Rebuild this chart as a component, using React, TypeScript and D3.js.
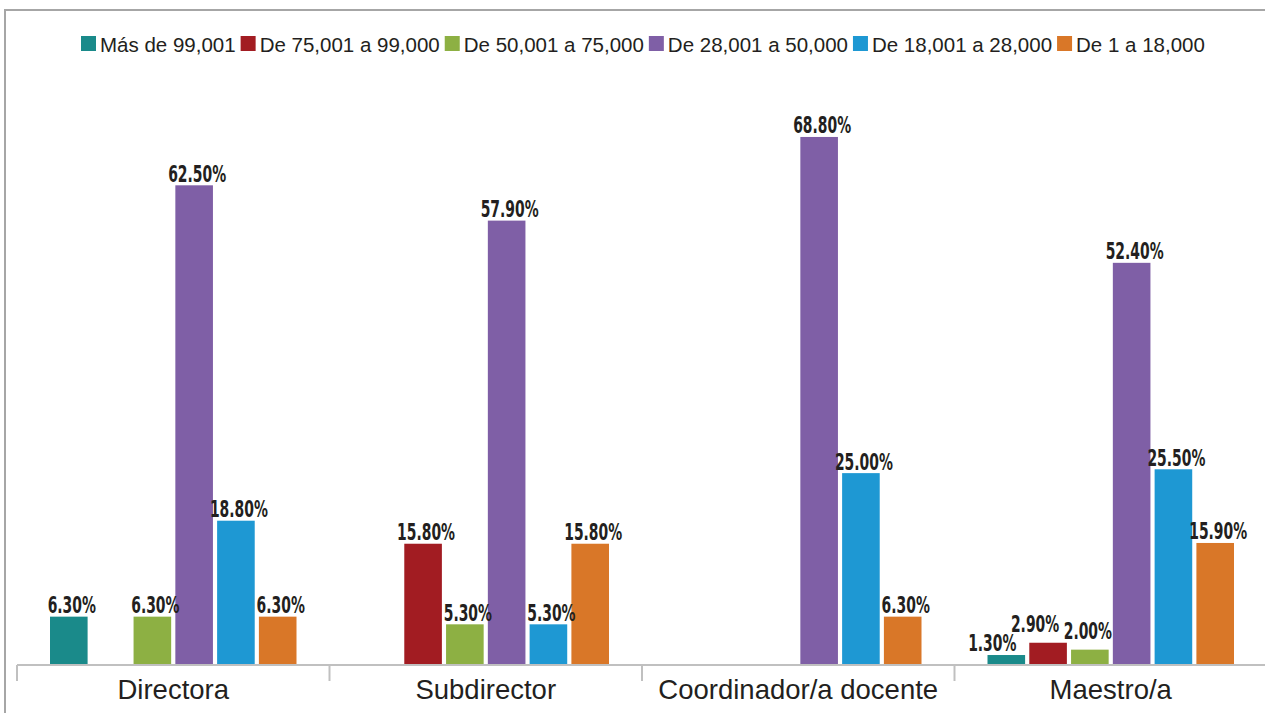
import React, { useEffect, useRef } from "react";
import * as d3 from "d3";

const categories = ["Directora", "Subdirector", "Coordinador/a docente", "Maestro/a"];
const seriesNames = [
  "Más de 99,001",
  "De 75,001 a 99,000",
  "De 50,001 a 75,000",
  "De 28,001 a 50,000",
  "De 18,001 a 28,000",
  "De 1 a 18,000",
];
const seriesColors = ["#1a8a8a", "#a21c22", "#8db043", "#7f5fa6", "#1e98d3", "#d97728"];
// values per series, in category order (null = no bar)
const masDe99001 = [6.3, null, null, 1.3];
const de75001a99000 = [null, 15.8, null, 2.9];
const de50001a75000 = [6.3, 5.3, null, 2.0];
const de28001a50000 = [62.5, 57.9, 68.8, 52.4];
const de18001a28000 = [18.8, 5.3, 25.0, 25.5];
const de1a18000 = [6.3, 15.8, 6.3, 15.9];
const seriesValues = [masDe99001, de75001a99000, de50001a75000, de28001a50000, de18001a28000, de1a18000];

const condFont = "'Liberation Sans Narrow', 'DejaVu Sans Condensed', sans-serif";

export default function App() {
  const ref = useRef<SVGSVGElement>(null);
  useEffect(() => {
    const svg = d3.select(ref.current);
    svg.selectAll("*").remove();
    const W = 1265, H = 713;

    // frame
    svg.append("path")
      .attr("d", `M5,${H + 5} V10 H${W + 5}`)
      .attr("fill", "none").attr("stroke", "#a6a6a6").attr("stroke-width", 2);

    const x = d3.scaleBand<string>().domain(categories).range([17, 1267]);
    const xi = d3.scaleBand<number>().domain(d3.range(seriesNames.length))
      .range([33, x.bandwidth() - 33]).paddingInner(0.1);
    const y = d3.scaleLinear().domain([0, 80]).range([665, 51]);

    // label nudges for crowded small bars (category index, series index) -> [dx, dy]
    const nudge = (ci: number, si: number): [number, number] => {
      if (ci === 3 && si === 0) return [-17, -1];
      if (ci === 3 && si === 1) return [-16, -7];
      if (ci === 3 && si === 2) return [-5, -7];
      return [0, 0];
    };

    // measure width factor for data labels
    const probe = svg.append("text")
      .attr("font-family", condFont).attr("font-weight", "bold").attr("font-size", 23)
      .text("62.50%");
    const labelK = 58 / (probe.node() as SVGTextElement).getComputedTextLength();
    probe.remove();

    const bars = svg.append("g");
    const labels = svg.append("g");
    seriesValues.forEach((vals, si) => {
      vals.forEach((v, ci) => {
        if (v == null) return;
        const bx = (x(categories[ci]) as number) + (xi(si) as number);
        bars.append("rect")
          .attr("x", bx).attr("y", y(v)).attr("width", xi.bandwidth())
          .attr("height", y(0) - y(v)).attr("fill", seriesColors[si]);
        const [dx, dy] = nudge(ci, si);
        const t = labels.append("text")
          .attr("x", bx + xi.bandwidth() / 2 + 3 + dx).attr("y", y(v) - 3.5 + dy)
          .attr("text-anchor", "middle")
          .attr("font-family", condFont)
          .attr("font-weight", "bold").attr("font-size", 23)
          .attr("fill", "#231f20")
          .text(v.toFixed(2) + "%");
        const w = (t.node() as SVGTextElement).getComputedTextLength();
        t.attr("textLength", w * labelK).attr("lengthAdjust", "spacingAndGlyphs");
      });
    });

    // axis
    const ax = svg.append("g");
    ax.append("line").attr("x1", 17).attr("x2", W).attr("y1", 665).attr("y2", 665)
      .attr("stroke", "#c0c0c0").attr("stroke-width", 2);
    const bounds = categories.map((c) => x(c) as number).concat([x.range()[1]]);
    bounds.forEach((b) => {
      ax.append("line").attr("x1", b).attr("x2", b).attr("y1", 665).attr("y2", 681)
        .attr("stroke", "#c0c0c0").attr("stroke-width", 2);
    });
    categories.forEach((c) => {
      ax.append("text")
        .attr("x", (x(c) as number) + x.bandwidth() / 2).attr("y", 699)
        .attr("text-anchor", "middle")
        .attr("font-family", "'Liberation Sans', Arial, sans-serif")
        .attr("font-size", 27.5).attr("fill", "#231f20")
        .text(c);
    });

    // legend
    const lg = svg.append("g");
    let lx = 81;
    seriesNames.forEach((name, i) => {
      lg.append("rect").attr("x", lx).attr("y", 36).attr("width", 15).attr("height", 15)
        .attr("fill", seriesColors[i]);
      const t = lg.append("text")
        .attr("x", lx + 19).attr("y", 51.5)
        .attr("font-family", "'Liberation Sans', Arial, sans-serif")
        .attr("font-size", 20.5).attr("fill", "#231f20")
        .text(name);
      const w = (t.node() as SVGTextElement).getComputedTextLength();
      lx += 19 + w + 5;
    });
  }, []);
  return (
    <svg ref={ref} width={1265} height={713}
      style={{ position: "absolute", left: 0, top: 0, background: "#fff" }} />
  );
}
